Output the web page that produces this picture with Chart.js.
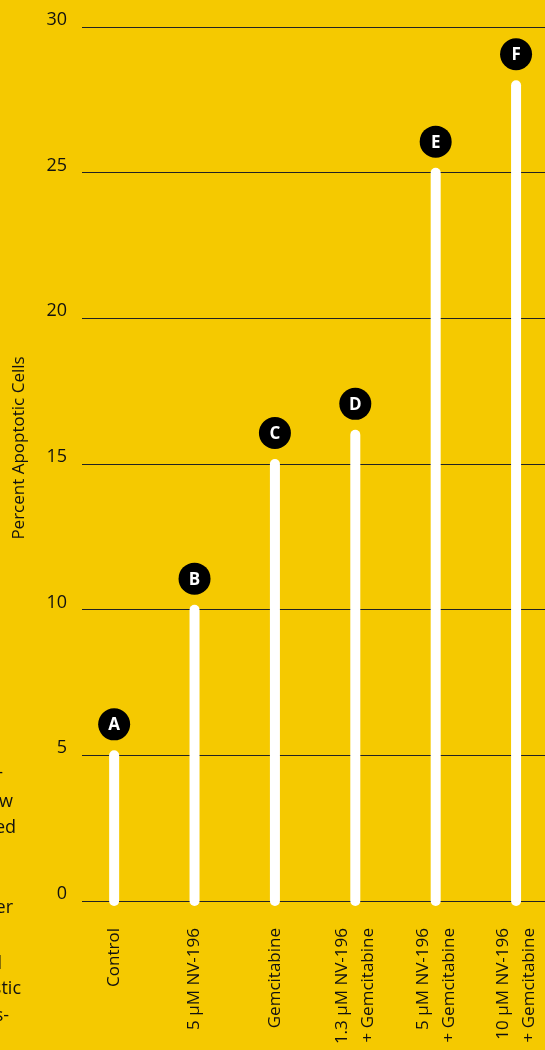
<!DOCTYPE html>
<html>
<head>
<meta charset="utf-8">
<script src="https://cdn.jsdelivr.net/npm/chart.js@4"></script>
<style>
  html, body { margin: 0; padding: 0; background: #f5c900; overflow: hidden; }
  #wrap { position: relative; width: 545px; height: 1050px; }
  #side { position: absolute; left: 0; top: 0; width: 545px; height: 1050px; z-index: 2; pointer-events: none;
          font-family: "Open Sans", sans-serif; font-size: 18px; color: #111; }
  #side div { position: absolute; white-space: nowrap; line-height: 26px; }
</style>
</head>
<body>
<div id="wrap">
  <canvas id="chart"></canvas>
  <div id="side"></div>
</div>
<script>
    // Data
    const categories = [
        "Control",
        "5 µM NV-196",
        "Gemcitabine",
        ["1.3 µM NV-196", "+ Gemcitabine"],
        ["5 µM NV-196", "+ Gemcitabine"],
        ["10 µM NV-196", "+ Gemcitabine"],
    ];
    const markers = ["A", "B", "C", "D", "E", "F"];
    const apoptotic = [5, 10, 15, 16, 25, 28];
    const yTicks = [0, 5, 10, 15, 20, 25, 30];

    // Cut-off text from the neighbouring column
    const sideText = [
        ["anti-", 3, 771],
        ["flow", 13, 800],
        ["treated", 16, 826],
        ["after", 13, 906],
        ["cell", 2, 962],
        ["diagnostic", 21, 987],
        ["cells-", 9, 1014],
    ];
    const side = document.getElementById("side");
    sideText.forEach(([t, right, y]) => {
        const d = document.createElement("div");
        d.textContent = t;
        d.style.right = (545 - right) + "px";
        d.style.top = (y - 13) + "px";
        side.appendChild(d);
    });

    const font = "'Open Sans', sans-serif";
    Chart.defaults.font.family = font;
    Chart.defaults.color = "#111";

    // Center multi-line rotated x labels on their tick
    const centerLabels = {
        id: "centerLabels",
        beforeDraw(chart) {
            const items = chart.scales.x.getLabelItems();
            items.forEach((it) => {
                if (it._centered || !Array.isArray(it.label)) return;
                const lh = it.font.lineHeight;
                it.options.translation[0] -= (lh / 2) * (it.label.length - 1);
                it._centered = true;
            });
        },
    };

    // Letter badges above each bar + axis title
    const badges = {
        id: "badges",
        afterDatasetsDraw(chart) {
            const ctx = chart.ctx;
            chart.data.datasets.forEach((ds, i) => {
                const top = chart.getDatasetMeta(i).data[1];
                if (!top) return;
                const cx = top.x, cy = top.y - 31;
                ctx.save();
                ctx.fillStyle = "#000";
                ctx.beginPath();
                ctx.arc(cx, cy, 16, 0, Math.PI * 2);
                ctx.fill();
                ctx.fillStyle = "#fff";
                ctx.font = "bold 17px " + font;
                ctx.textAlign = "center";
                ctx.textBaseline = "middle";
                ctx.fillText(markers[i], cx, cy + 1);
                ctx.restore();
            });
            ctx.save();
            ctx.translate(19, 448);
            ctx.rotate(-Math.PI / 2);
            ctx.fillStyle = "#111";
            ctx.font = "17px " + font;
            ctx.textAlign = "center";
            ctx.textBaseline = "middle";
            ctx.fillText("Percent Apoptotic Cells", 0, 0);
            ctx.restore();
        },
    };

    const ctx = document.getElementById("chart").getContext("2d");
    new Chart(ctx, {
        type: "line",
        data: {
            datasets: apoptotic.map((v, i) => ({
                data: [{ x: i, y: 0 }, { x: i, y: v }],
                borderColor: "#fff",
                borderWidth: 10,
                borderCapStyle: "round",
                pointRadius: 0,
                clip: false,
            })),
        },
        options: {
            responsive: true,
            maintainAspectRatio: false,
            animation: false,
            events: [],
            layout: { padding: { top: 27, right: 0, bottom: 0, left: 0 } },
            plugins: { legend: { display: false }, tooltip: { enabled: false } },
            scales: {
                x: {
                    type: "linear",
                    min: -0.4,
                    max: 5.36,
                    grid: { display: false },
                    border: { display: false },
                    afterBuildTicks: (s) => { s.ticks = categories.map((_, i) => ({ value: i })); },
                    afterFit: (s) => {
                        s.height = 149;
                        s.paddingLeft = 0;
                        s.paddingRight = 0;
                    },
                    ticks: {
                        minRotation: 90,
                        maxRotation: 90,
                        padding: 19,
                        autoSkip: false,
                        font: { size: 17, lineHeight: 1.53 },
                        callback: (v) => categories[v],
                    },
                },
                y: {
                    min: 0,
                    max: 30,
                    afterBuildTicks: (s) => { s.ticks = yTicks.map((v) => ({ value: v })); },
                    afterFit: (s) => { s.width = 82; },
                    grid: { color: "#222", lineWidth: 1, drawTicks: false },
                    border: { display: false },
                    ticks: {
                        padding: 15,
                        labelOffset: -7,
                        font: { size: 18 },
                    },
                },
            },
        },
        plugins: [centerLabels, badges],
    });
</script>
</body>
</html>
